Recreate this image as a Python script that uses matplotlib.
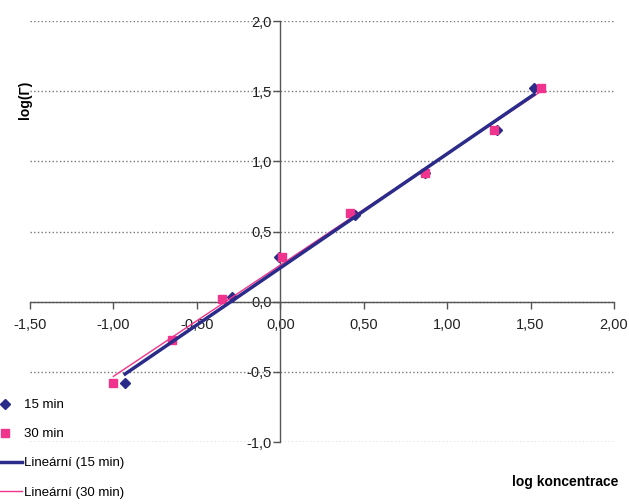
import numpy as np
import matplotlib.pyplot as plt

plt.rcParams['font.family'] = ['Liberation Sans', 'DejaVu Sans']

# 15 min series
x15 = [-0.93, -0.29, -0.01, 0.45, 0.87, 1.30, 1.52]
y15 = [-0.58, 0.03, 0.32, 0.62, 0.92, 1.22, 1.52]
# 30 min series
x30 = [-1.00, -0.65, -0.35, 0.01, 0.42, 0.87, 1.28, 1.56]
y30 = [-0.58, -0.27, 0.02, 0.32, 0.63, 0.92, 1.22, 1.52]

xticks = [-1.5, -1.0, -0.5, 0.0, 0.5, 1.0, 1.5, 2.0]
xlabels = ['-1,50', '-1,00', '-0,50', '0,00', '0,50', '1,00', '1,50', '2,00']
yticks = [-1.0, -0.5, 0.0, 0.5, 1.0, 1.5, 2.0]
ylabels = ['-1,0', '-0,5', '0,0', '0,5', '1,0', '1,5', '2,0']

blue = '#2b2b8a'
pink = '#f0338c'

fig = plt.figure(figsize=(6.29, 5.04), dpi=100)
ax = fig.add_axes([30 / 629, 1 - 442 / 504, 584 / 629, 421 / 504])

# linear trendlines
p15 = np.polyfit(x15, y15, 1)
p30 = np.polyfit(x30, y30, 1)
lx15 = np.array([min(x15), max(x15)])
lx30 = np.array([min(x30), max(x30)])

h1, = ax.plot(x15, y15, 'D', color=blue, markersize=5, linestyle='none', zorder=3)
h2, = ax.plot(x30, y30, 's', color=pink, markersize=6, linestyle='none', zorder=4)
h4, = ax.plot(lx30, np.polyval(p30, lx30), color=pink, linewidth=1, zorder=5)
h3, = ax.plot(lx15, np.polyval(p15, lx15), color=blue, linewidth=2.5, zorder=6)

ax.set_xlim(-1.5, 2.0)
ax.set_ylim(-1.0, 2.0)
ax.set_xticks(xticks)
ax.set_xticklabels(xlabels)
ax.set_yticks(yticks)
ax.set_yticklabels(ylabels)

for s in ['top', 'right']:
    ax.spines[s].set_visible(False)
ax.spines['left'].set_position(('data', 0))
ax.spines['bottom'].set_position(('data', 0))
for s in ['left', 'bottom']:
    ax.spines[s].set_color('#555555')
    ax.spines[s].set_linewidth(1)

ax.tick_params(axis='both', labelsize=10.5, colors='#555555', labelcolor='#222222', length=5, width=1)
ax.tick_params(axis='x', pad=7)
ax.tick_params(axis='y', pad=1)
ax.yaxis.grid(True, linestyle=':', color='#777777', linewidth=1)
ax.set_axisbelow(True)

fig.text(25 / 629, 1 - 100 / 504, 'log(Γ)', rotation=90, fontsize=10, fontweight='bold',
         ha='center', va='center')
fig.text(565 / 629, 1 - 482 / 504, 'log koncentrace', fontsize=10, fontweight='bold',
         ha='center', va='center')

leg = fig.legend([h1, h2, h3, h4], ['15 min', '30 min', 'Lineární (15 min)', 'Lineární (30 min)'],
                 loc='upper left', bbox_to_anchor=(-12 / 629, 1 - 399 / 504), frameon=False,
                 fontsize=9.5, handlelength=2.6, handletextpad=0.1, labelspacing=1.28,
                 borderpad=0, borderaxespad=0)

fig.savefig('out.png', dpi=100)
